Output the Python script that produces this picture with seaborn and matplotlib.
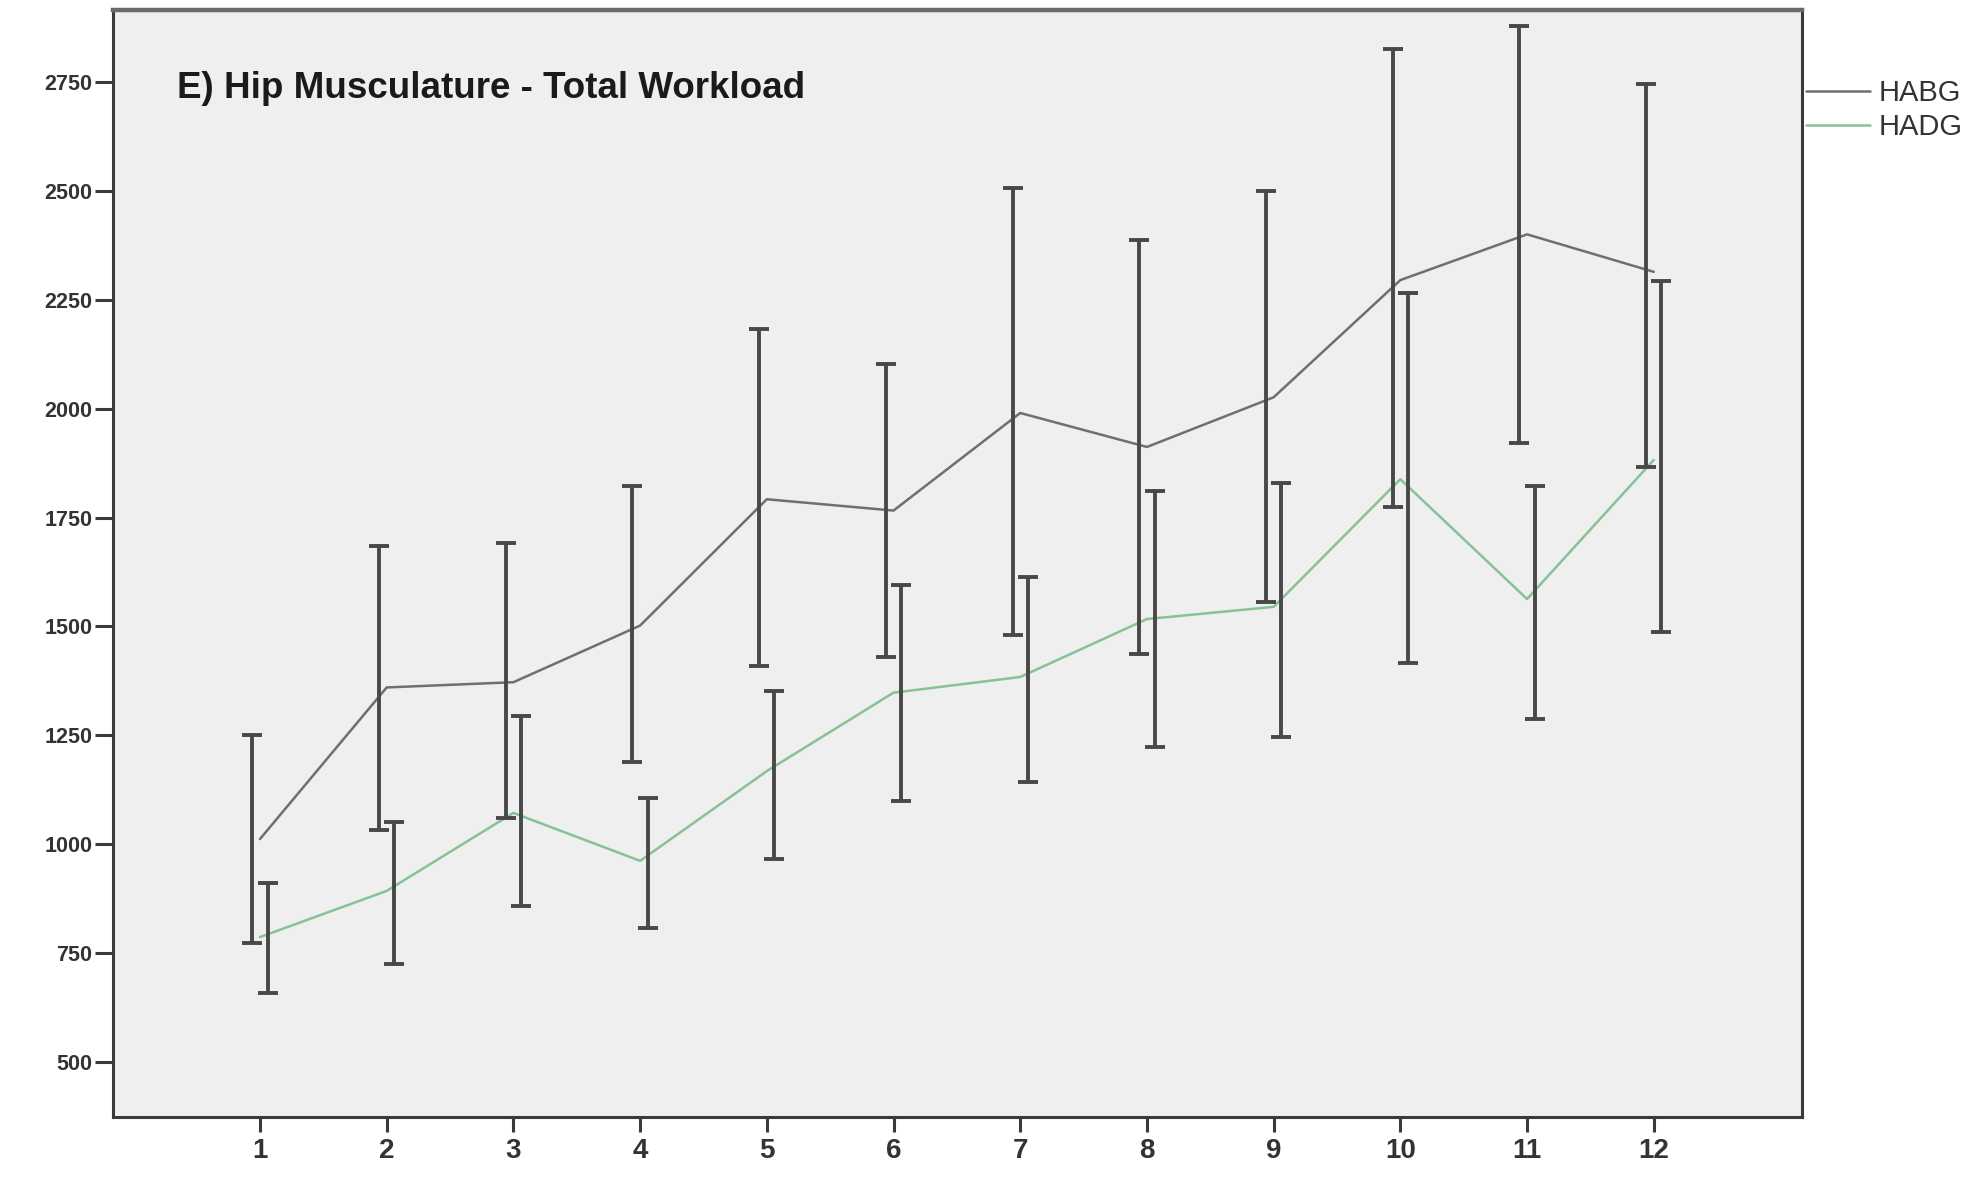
import pandas as pd
import matplotlib
matplotlib.use("Agg")
import matplotlib.pyplot as plt
import seaborn as sns

sns.set_style("white")
plt.rcParams['font.family'] = ['Liberation Sans', 'DejaVu Sans']

# Data
sessions = list(range(1, 13))
habg_mean = [1012, 1360, 1372, 1502, 1792, 1766, 1990, 1912, 2026, 2295, 2400, 2314]
habg_low = [773, 1033, 1060, 1189, 1410, 1430, 1480, 1436, 1556, 1774, 1921, 1866]
habg_high = [1251, 1685, 1691, 1822, 2182, 2102, 2506, 2386, 2500, 2826, 2878, 2745]
hadg_mean = [787, 893, 1072, 962, 1168, 1348, 1384, 1517, 1545, 1838, 1563, 1882]
hadg_low = [658, 725, 858, 808, 966, 1100, 1142, 1223, 1247, 1417, 1288, 1487]
hadg_high = [911, 1050, 1294, 1106, 1352, 1596, 1614, 1810, 1830, 2266, 1823, 2294]
groups = ["HABG", "HADG"]
yticks = [500, 750, 1000, 1250, 1500, 1750, 2000, 2250, 2500, 2750]

colors = {"HABG": "#6f6f6f", "HADG": "#86c295"}
bar_color = "#484848"
frame_color = "#3a3a3a"

df = pd.DataFrame({
    "session": sessions * 2,
    "mean": habg_mean + hadg_mean,
    "group": ["HABG"] * 12 + ["HADG"] * 12,
})

fig = plt.figure(figsize=(19.78, 11.88), dpi=100)
ax = fig.add_axes([113 / 1978, 1 - 1117 / 1188, (1802 - 113) / 1978, (1117 - 10) / 1188])
ax.set_facecolor("#efefef")

sns.lineplot(data=df, x="session", y="mean", hue="group", palette=colors,
             linewidth=1.8, ax=ax, zorder=3)

# error bars, slightly dodged
offsets = {"HABG": -0.06, "HADG": 0.06}
lows = {"HABG": habg_low, "HADG": hadg_low}
highs = {"HABG": habg_high, "HADG": hadg_high}
for g in groups:
    xs = [s + offsets[g] for s in sessions]
    mid = [(lo + hi) / 2 for lo, hi in zip(lows[g], highs[g])]
    err = [(hi - lo) / 2 for lo, hi in zip(lows[g], highs[g])]
    ax.errorbar(xs, mid, yerr=err, fmt="none", ecolor=bar_color,
                elinewidth=2.8, capsize=7, capthick=2.8, zorder=4)

ax.set_xlim(-0.16, 13.17)
ax.set_ylim(374, 2915)
ax.set_xticks(sessions)
ax.set_yticks(yticks)
ax.set_xlabel("")
ax.set_ylabel("")

for side in ["left", "bottom", "right", "top"]:
    ax.spines[side].set_color(frame_color)
    ax.spines[side].set_linewidth(2.2)
ax.spines["top"].set_color("#6a6a6a")
ax.spines["top"].set_linewidth(3.2)

ax.tick_params(axis="y", direction="out", length=13, width=2.2, pad=2,
               labelsize=15.5, labelcolor="#333333", color=frame_color, left=True)
ax.tick_params(axis="x", direction="out", length=11, width=2.2, pad=4,
               labelsize=20, labelcolor="#333333", color=frame_color, bottom=True)
for lab in ax.get_xticklabels() + ax.get_yticklabels():
    lab.set_fontweight("bold")

ax.text(0.038, 0.9295, "E) Hip Musculature - Total Workload", transform=ax.transAxes,
        fontsize=26.5, fontweight="bold", color="#1a1a1a", va="center", ha="left")

handles, labels = ax.get_legend_handles_labels()
ax.get_legend().remove()
fig.legend(handles, labels, loc="upper left", bbox_to_anchor=(1806 / 1978, 1 - 79 / 1188),
           frameon=False, fontsize=21, handlelength=2.2, handletextpad=0.3,
           labelspacing=0.2, borderpad=0, borderaxespad=0, labelcolor="#333333")

fig.savefig("out.png", dpi=100, facecolor="white")
